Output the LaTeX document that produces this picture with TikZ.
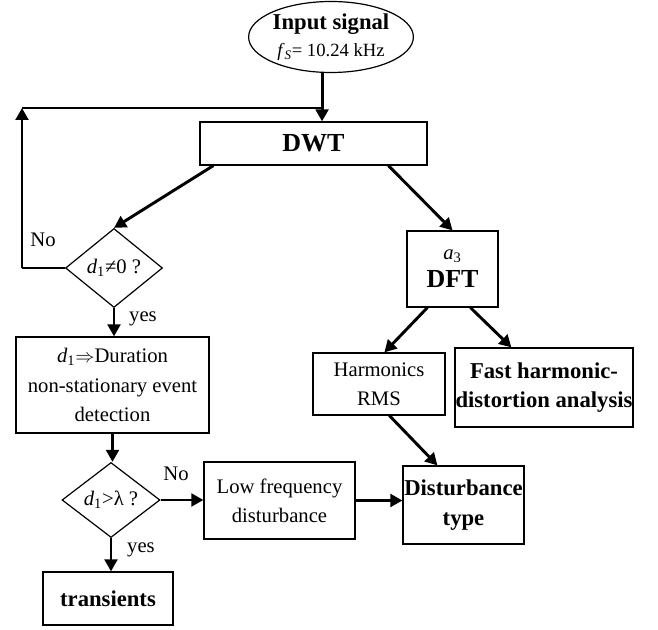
\documentclass[tikz,border=0pt]{standalone}
\usepackage{fontspec}
\setmainfont{Liberation Serif}
\usepackage{amssymb}
\usepackage{tikz}
\usetikzlibrary{arrows.meta,shapes.geometric,positioning,calc}

\newcommand{\nrm}{\fontsize{15.5}{22}\selectfont}
\newcommand{\bld}{\fontsize{17}{22}\selectfont\bfseries}
\newcommand{\hdr}{\fontsize{19.5}{22}\selectfont\bfseries}

\begin{document}
\begin{tikzpicture}[x=0.75pt, y=-0.75pt, >={Triangle[length=9pt,width=9.5pt]}, line width=0.9pt]
	\tikzstyle{blk}=[draw, line width=0.9pt, align=center, inner sep=0pt, font=\nrm]
	\tikzstyle{dec}=[blk, diamond, aspect=1.25]
	\tikzstyle{arr}=[->, line width=2.2pt]
	\tikzstyle{lbl}=[font=\nrm, inner sep=0pt]
	\useasboundingbox (0,0) rectangle (658,630);
	\node[blk, ellipse, minimum width=119.25pt, minimum height=53.25pt]	(in)	at (331,37)	{{\bld Input signal}\\[-2pt]{\fontsize{14}{16}\selectfont\textit{f}\textsubscript{\textit{S}}= 10.24 kHz}};
	\node[blk, minimum width=170.25pt, minimum height=32.25pt]	(dwt)	at (313.5,143.5)	{\hdr DWT};
	\node[dec, minimum width=72.75pt, minimum height=59.25pt]	(nz)	at (114,268)	{\textit{d}\textsubscript{1}≠0 ?};
	\node[blk, minimum width=144.75pt, minimum height=72pt]	(dur)	at (112.5,385)	{\textit{d}\textsubscript{1}$\Rightarrow$Duration\\non-stationary event\\detection};
	\node[dec, minimum width=73.5pt, minimum height=56.25pt]	(gt)	at (111,500)	{\textit{d}\textsubscript{1}>λ ?};
	\node[blk, minimum width=97.5pt, minimum height=39.75pt, font=\bld]	(trans)	at (108,598.5)	{transients};
	\node[blk, minimum width=113.25pt, minimum height=57.75pt]	(lf)	at (279.5,500.5)	{Low frequency\\disturbance};
	\node[blk, minimum width=90.75pt, minimum height=58.5pt, font=\bld]	(dst)	at (463.5,505)	{Disturbance\\type};
	\node[blk, minimum width=68.25pt, minimum height=57pt]	(dft)	at (452.5,269)	{\textit{a}\textsubscript{3}\\[-1pt]{\hdr DFT}};
	\node[blk, minimum width=99pt, minimum height=46.5pt]	(rms)	at (379,384)	{Harmonics\\RMS};
	\node[blk, minimum width=133.5pt, minimum height=59.25pt, font=\bld]	(fast)	at (544,387.5)	{Fast harmonic-\\distortion analysis};
	\coordinate (fb) at (22,108);
	\node[lbl]	(no1)	at (43,240)	{No};
	\node[lbl]	(yes1)	at (143,319)	{yes};
	\node[lbl]	(no2)	at (176,474)	{No};
	\node[lbl]	(yes2)	at (141,550)	{yes};
	\draw[arr] (in.256) -- (in.256 |- dwt.north);
	\draw (fb) -- (fb -| in.256);
	\draw (nz.west) -- (nz.west -| fb);
	\draw[arr] (nz.west -| fb) -- (fb);
	\draw[arr] ($(dwt.south west)+(14,0)$) -- (nz.north);
	\draw[arr] ($(dwt.south west)+(189,0)$) -- (dft.north);
	\draw[arr] (nz.south) -- (nz.south |- dur.north);
	\draw[arr] (dur.south) -- (dur.south |- gt.north);
	\draw[arr] (gt.east) -- (gt.east -| lf.west);
	\draw[arr] (gt.south) -- (gt.south |- trans.north);
	\draw[arr] (lf.east) -- (lf.east -| dst.west);
	\draw[arr] ($(dft.south west)+(21,0)$) -- ($(rms.north west)+(72,0)$);
	\draw[arr] ($(dft.south west)+(64,0)$) -- ($(fast.north west)+(57,0)$);
	\draw[arr] ($(rms.south west)+(77,0)$) -- ($(dst.north west)+(35,0)$);
\end{tikzpicture}
\end{document}
